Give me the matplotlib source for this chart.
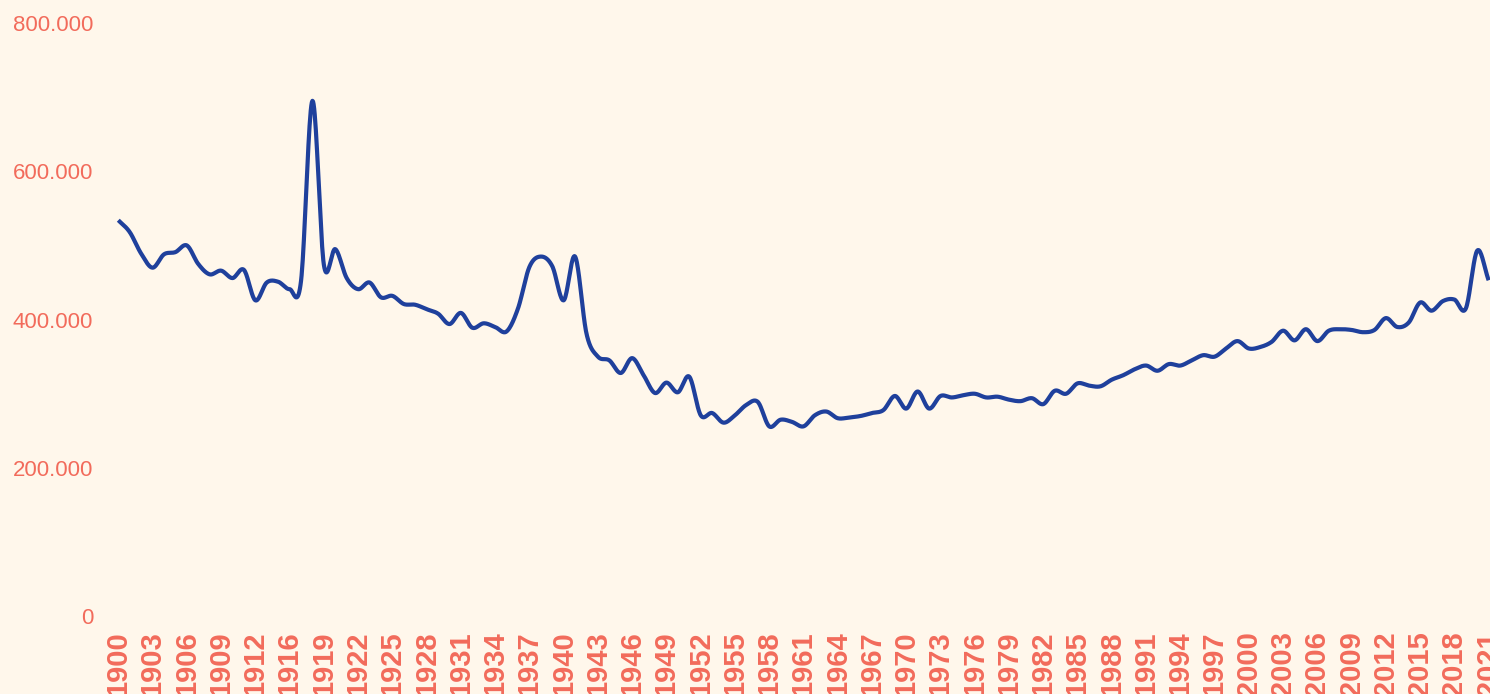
import matplotlib
matplotlib.use("Agg")
import matplotlib.pyplot as plt
import matplotlib.ticker as mticker
import numpy as np

# Annual deaths, one category per year (1915 not in the series)
years = [y for y in range(1900, 2022) if y != 1915]
deaths = [
    534000, 518000, 489000, 470000, 488000, 491000, 500000, 475000, 461000, 466000,
    456000, 467000, 426000, 450000, 451000, 441000, 452000, 695000, 474000, 495000,
    456000, 441000, 450000, 430000, 432000, 421000, 420000, 414000, 408000, 394000,
    409000, 389000, 395000, 390000, 384000, 415000, 471000, 485000, 472000, 426000,
    485000, 381000, 350000, 345000, 328000, 348000, 325000, 301000, 315000, 302000,
    323000, 271000, 274000, 261000, 271000, 285000, 289000, 256000, 265000, 262000,
    256000, 271000, 276000, 267000, 268000, 270000, 274000, 278000, 297000, 280000,
    303000, 280000, 297000, 295000, 298000, 300000, 295000, 296000, 292000, 290000,
    294000, 286000, 304000, 300000, 314000, 311000, 310000, 319000, 325000, 333000,
    338000, 331000, 340000, 338000, 345000, 352000, 350000, 361000, 371000, 361000,
    363000, 370000, 385000, 372000, 387000, 371000, 385000, 387000, 386000, 383000,
    386000, 402000, 390000, 396000, 423000, 412000, 425000, 427000, 415000, 493000,
    453000,
]
y_ticks = [0, 200000, 400000, 600000, 800000]

BG = "#FFF7EB"
LINE = "#1F409C"
TXT = "#F26B5B"


def smooth(xs, ys, n=20):
    # Catmull-Rom curve through the points (for the rounded look of the line)
    xs = np.asarray(xs, float)
    ys = np.asarray(ys, float)
    px = np.concatenate([[2 * xs[0] - xs[1]], xs, [2 * xs[-1] - xs[-2]]])
    py = np.concatenate([[2 * ys[0] - ys[1]], ys, [2 * ys[-1] - ys[-2]]])
    t = np.linspace(0, 1, n, endpoint=False)
    out_x, out_y = [], []
    for i in range(1, len(px) - 2):
        for p, out in ((px, out_x), (py, out_y)):
            p0, p1, p2, p3 = p[i - 1], p[i], p[i + 1], p[i + 2]
            out.append(0.5 * (2 * p1 + (-p0 + p2) * t
                              + (2 * p0 - 5 * p1 + 4 * p2 - p3) * t ** 2
                              + (-p0 + 3 * p1 - 3 * p2 + p3) * t ** 3))
    out_x.append([xs[-1]])
    out_y.append([ys[-1]])
    return np.concatenate(out_x), np.concatenate(out_y)


plt.rcParams['font.family'] = ['Liberation Sans', 'DejaVu Sans']

fig = plt.figure(figsize=(14.9, 6.94), dpi=100, facecolor=BG)
ax = fig.add_axes([0.0794, 0.1121, 0.9197, 0.8548])
ax.set_facecolor(BG)

idx = np.arange(len(years))
sx, sy = smooth(idx, deaths)
ax.plot(sx, sy, color=LINE, linewidth=3, solid_capstyle='butt', clip_on=False)

ax.set_xlim(0, len(years) - 1)
ax.set_ylim(0, 800000)

ax.set_xticks(idx[::3])
ax.set_xticklabels([str(years[i]) for i in idx[::3]], rotation=90,
                   fontsize=21, fontweight='bold', color=TXT, va='top')
ax.set_yticks(y_ticks)
ax.yaxis.set_major_formatter(
    mticker.FuncFormatter(lambda v, p: f"{int(v):,}".replace(",", ".")))
ax.tick_params(axis='y', labelsize=16, labelcolor=TXT, length=0, pad=18)
ax.tick_params(axis='x', length=0, pad=11)

for s in ax.spines.values():
    s.set_visible(False)

fig.savefig("out.png", dpi=100, facecolor=BG)
plt.close(fig)
